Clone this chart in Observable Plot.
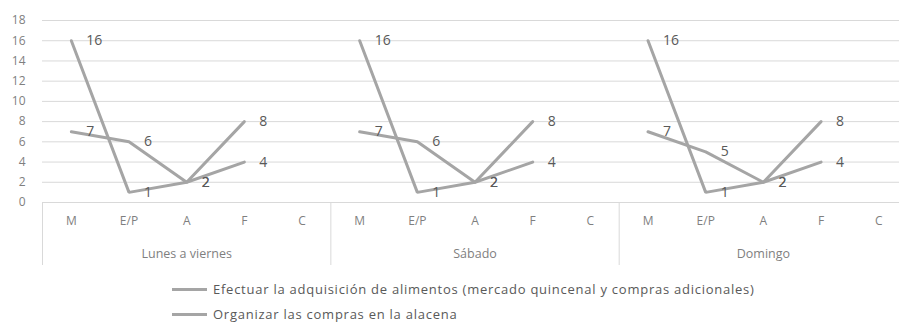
<!DOCTYPE html>
<html>
<head>
<meta charset="utf-8">
<script src="https://cdn.jsdelivr.net/npm/d3@7"></script>
<script src="https://cdn.jsdelivr.net/npm/@observablehq/plot@0.6"></script>
<style>
  body { margin: 0; background: #fff; overflow: hidden; }
  #chart { position: relative; width: 899px; height: 333px; font-family: "Open Sans", sans-serif; }
  .legend { position: absolute; left: 172px; display: flex; align-items: center; font-size: 13px; letter-spacing: 0.75px; color: #595959; white-space: nowrap; }
  .legend .swatch { width: 35px; height: 3px; background: #a5a5a5; margin-right: 6px; }
</style>
</head>
<body>
<div id="chart"></div>
<script>
// Day groups and the activity categories shown under each
const groups = ["Lunes a viernes", "Sábado", "Domingo"];
const categories = ["M", "E/P", "A", "F", "C"];
const seriesNames = [
  "Efectuar la adquisición de alimentos (mercado quincenal y compras adicionales)",
  "Organizar las compras en la alacena"
];
// Values per group (rows) and category (columns); C has no value
const adquisicion = [
  [16, 1, 2, 8, null],
  [16, 1, 2, 8, null],
  [16, 1, 2, 8, null]
];
const organizar = [
  [7, 6, 2, 4, null],
  [7, 6, 2, 4, null],
  [7, 5, 2, 4, null]
];
const yTicks = [0, 2, 4, 6, 8, 10, 12, 14, 16, 18];

const lineColor = "#a5a5a5";
const textColor = "#595959";
const axisColor = "#7f7f7f";
const gridColor = "#d9d9d9";

// Flatten to rows: one x slot per (group, category)
const nCat = categories.length;
const rows = [];
[adquisicion, organizar].forEach((values, s) => {
  values.forEach((groupVals, g) => {
    groupVals.forEach((v, c) => {
      if (v != null) rows.push({series: seriesNames[s], group: groups[g], key: s + "-" + g, idx: g * nCat + c, value: v});
    });
  });
});
const catTicks = d3.range(groups.length * nCat);
const groupCenters = groups.map((_, g) => g * nCat + (nCat - 1) / 2);
const separators = d3.range(groups.length + 1).map(g => g * nCat - 0.5);

const chart = Plot.plot({
  width: 899,
  height: 270,
  marginLeft: 42,
  marginRight: 0,
  marginTop: 20,
  marginBottom: 68,
  style: {fontFamily: "'Open Sans', sans-serif", fontSize: "12px", color: axisColor, background: "transparent", overflow: "visible"},
  x: {type: "linear", domain: [-0.5, groups.length * nCat - 0.5], range: [42, 42 + 57.67 * groups.length * nCat], axis: null},
  y: {domain: [0, 18], axis: null},
  marks: [
    Plot.ruleY(yTicks, {stroke: gridColor, strokeWidth: 1}),
    Plot.ruleX(separators, {y1: 0, y2: 0, insetBottom: -63, stroke: gridColor, strokeWidth: 1}),
    Plot.axisY({ticks: yTicks, tickSize: 0, tickPadding: 17, fill: axisColor, fontSize: 12, label: null}),
    Plot.axisX({ticks: catTicks, tickFormat: i => categories[i % nCat], tickSize: 0, tickPadding: 14, fill: axisColor, fontSize: 12, label: null}),
    Plot.axisX({ticks: groupCenters, tickFormat: i => groups[Math.round(i) / nCat | 0], tickSize: 0, tickPadding: 47, fill: axisColor, fontSize: 12.5, label: null, style: {letterSpacing: "0.3px"}}),
    Plot.line(rows, {x: "idx", y: "value", z: "key", stroke: lineColor, strokeWidth: 3, strokeLinejoin: "miter"}),
    Plot.text(rows, {x: "idx", y: "value", text: d => String(d.value), textAnchor: "start", dx: 15, fill: textColor, fontSize: 14})
  ]
});
const container = document.getElementById("chart");
container.appendChild(chart);

// Legend below the plot
[289, 314].forEach((top, i) => {
  const item = document.createElement("div");
  item.className = "legend";
  item.style.top = (top - 9) + "px";
  item.style.height = "18px";
  item.innerHTML = `<span class="swatch"></span><span></span>`;
  item.lastChild.textContent = seriesNames[i];
  container.appendChild(item);
});
</script>
</body>
</html>
